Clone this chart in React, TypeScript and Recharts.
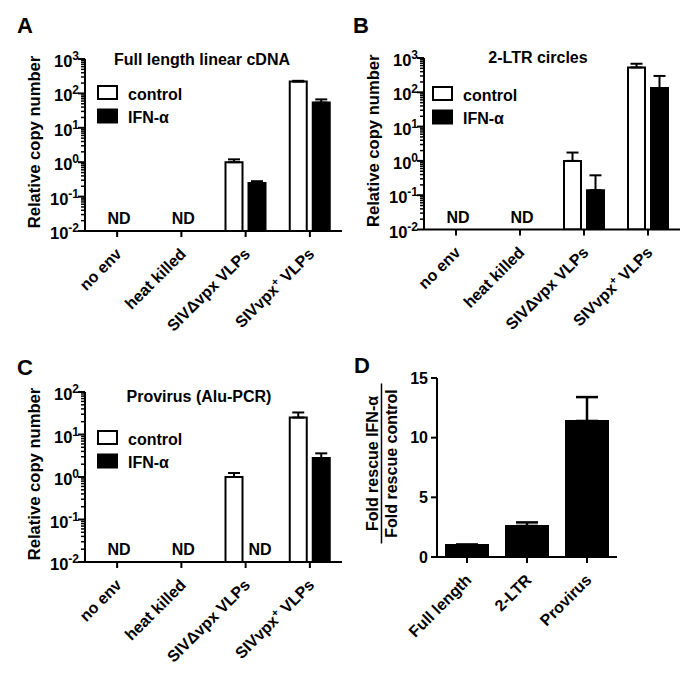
import React from "react";
import { BarChart, Bar, XAxis, YAxis, ErrorBar, Legend } from "recharts";

const FONT = "'Liberation Sans', Arial, Helvetica, sans-serif";

// ---------- data ----------
const categories = ["no env", "heat killed", "SIVΔvpx VLPs", "SIVvpx⁺ VLPs"];
const seriesNames = ["control", "IFN-α"];
const seriesFills = ["#ffffff", "#000000"];

// Panel A: Full length linear cDNA
const fullControl = [null, null, 1.0, 220];
const fullControlErr = [null, null, 0.21, 12];
const fullIfn = [null, null, 0.25, 54];
const fullIfnErr = [null, null, 0.03, 13];

// Panel B: 2-LTR circles
const ltrControl = [null, null, 1.0, 530];
const ltrControlErr = [null, null, 0.75, 150];
const ltrIfn = [null, null, 0.14, 133];
const ltrIfnErr = [null, null, 0.24, 167];

// Panel C: Provirus (Alu-PCR)
const provControl = [null, null, 1.0, 25];
const provControlErr = [null, null, 0.24, 8];
const provIfn = [null, null, null, 2.8];
const provIfnErr = [null, null, null, 0.8];

// Panel D: fold rescue ratio
const rescueCategories = ["Full length", "2-LTR", "Provirus"];
const rescueValues = [1.0, 2.6, 11.4];
const rescueErr = [0.05, 0.3, 2.0];

// ticks
const logMajorAB = [0.01, 0.1, 1, 10, 100, 1000];
const logMajorC = [0.01, 0.1, 1, 10, 100];
const minorSteps = [2, 3, 4, 5, 6, 7, 8, 9];
const rescueTicks = [0, 5, 10, 15];

// ---------- helpers ----------
const BAR = 17;
const GAP = 6;
const LEG_STEP = 23.5;

function buildLogTicks(majors: number[]) {
  const out: number[] = [];
  majors.forEach((m, i) => {
    out.push(m);
    if (i < majors.length - 1) minorSteps.forEach((s) => out.push(+(m * s).toPrecision(6)));
  });
  return out;
}

function buildRows(ctrl: any[], ctrlErr: any[], ifn: any[], ifnErr: any[]) {
  return categories.map((c, i) => ({
    category: c,
    control: ctrl[i],
    controlErr: ctrlErr[i] == null ? null : [0, ctrlErr[i]],
    ifn: ifn[i],
    ifnErr: ifnErr[i] == null ? null : [0, ifnErr[i]],
  }));
}

const txt = { fontFamily: FONT, fontWeight: 700, fill: "#000" } as const;

function LogTick(props: any) {
  const { x, y, payload } = props;
  const v = payload.value;
  const e = Math.log10(v);
  const major = Math.abs(e - Math.round(e)) < 1e-6;
  return (
    <g>
      <line x1={x - (major ? 7 : 4)} x2={x} y1={y} y2={y} stroke="#000" strokeWidth={major ? 2 : 1.5} />
      {major && (
        <text x={x - 6} y={y + 8} textAnchor="end" fontSize={16.5} {...txt}>
          10
          <tspan dy={-7} fontSize={12}>
            {String(Math.round(e))}
          </tspan>
        </text>
      )}
    </g>
  );
}

function CatText({ x, y, text }: { x: number; y: number; text: string }) {
  const ax = x + 5.5;
  const ay = y + 16;
  const parts = text.split("⁺");
  return (
    <text x={ax} y={ay} transform={`rotate(-45 ${ax} ${ay})`} textAnchor="end" fontSize={16} {...txt}>
      {parts.length === 1 ? (
        text
      ) : (
        <>
          {parts[0]}
          <tspan dy={-6} fontSize={11}>
            +
          </tspan>
          <tspan dy={6}>{parts[1]}</tspan>
        </>
      )}
    </text>
  );
}

function makeCatTick(rows: any[] | null) {
  return (props: any) => {
    const { x, y, payload, index } = props;
    const idx = payload && payload.index != null ? payload.index : index;
    const axisY = y - 8;
    let nd: React.ReactNode = null;
    if (rows) {
      const r = rows[idx];
      if (r && r.control == null && r.ifn == null) {
        nd = (
          <text x={x + 2} y={axisY - 7} textAnchor="middle" fontSize={16} {...txt}>
            ND
          </text>
        );
      } else if (r && r.ifn == null) {
        nd = (
          <text x={x + (BAR + GAP) / 2 + 3} y={axisY - 7} textAnchor="middle" fontSize={16} {...txt}>
            ND
          </text>
        );
      }
    }
    return (
      <g>
        {nd}
        <CatText x={x} y={y} text={String(payload.value)} />
      </g>
    );
  };
}

function yLabel(text: string, dx: number) {
  return (p: any) => {
    const vb = p.viewBox || {};
    const cx = vb.x + vb.width - dx;
    const cy = vb.y + vb.height / 2 - 3;
    return (
      <text x={cx} y={cy} transform={`rotate(-90 ${cx} ${cy})`} textAnchor="middle" fontSize={16.6} {...txt}>
        {text}
      </text>
    );
  };
}

function fractionLabel(p: any) {
  const vb = p.viewBox || {};
  const cx = vb.x + vb.width - 55.5;
  const cy = vb.y + vb.height / 2 - 4;
  return (
    <g transform={`rotate(-90 ${cx} ${cy})`}>
      <text x={cx} y={cy - 3.5} textAnchor="middle" fontSize={16} {...txt}>
        Fold rescue IFN-α
      </text>
      <line x1={cx - 80} x2={cx + 80} y1={cy} y2={cy} stroke="#000" strokeWidth={1.5} />
      <text x={cx} y={cy + 15} textAnchor="middle" fontSize={16} {...txt}>
        Fold rescue control
      </text>
    </g>
  );
}

function renderLegend() {
  return (
    <svg width={120} height={44} style={{ display: "block", overflow: "visible" }}>
      {seriesNames.map((name: string, i: number) => {
        const top = 1 + i * LEG_STEP;
        return (
          <g key={name}>
            <rect x={1} y={top} width={19} height={13} fill={seriesFills[i]} stroke="#000" strokeWidth={2} />
            <text x={31} y={top + 13.5} fontSize={16} {...txt}>
              {name}
            </text>
          </g>
        );
      })}
    </svg>
  );
}

const axisStroke = { stroke: "#000", strokeWidth: 2 };

function LogPanel(props: any) {
  const { rows, ticks, domain, left, top, width, height, margin, legendLeft, legendTop } = props;
  return (
    <div style={{ position: "absolute", left, top }}>
      <BarChart width={width} height={height} data={rows} margin={margin} barSize={BAR} barGap={GAP}>
        <XAxis
          dataKey="category"
          height={30}
          interval={0}
          axisLine={axisStroke}
          tickLine={axisStroke}
          tickSize={6}
          tickMargin={2}
          tick={makeCatTick(rows)}
        />
        <YAxis
          scale="log"
          type="number"
          domain={domain}
          ticks={ticks}
          interval={0}
          allowDataOverflow
          width={60}
          axisLine={axisStroke}
          tickLine={false}
          tickSize={0}
          tickMargin={0}
          tick={LogTick}
          label={yLabel("Relative copy number", 45.5)}
        />
        <Legend
          layout="vertical"
          align="center"
          verticalAlign="middle"
          content={renderLegend}
          wrapperStyle={{ left: legendLeft, top: legendTop, width: 120, height: 44 }}
        />
        <Bar dataKey="control" name={seriesNames[0]} fill={seriesFills[0]} stroke="#000" strokeWidth={2} isAnimationActive={false}>
          <ErrorBar dataKey="controlErr" direction="y" width={6} stroke="#000" strokeWidth={2} />
        </Bar>
        <Bar dataKey="ifn" name={seriesNames[1]} fill={seriesFills[1]} stroke="#000" strokeWidth={2} isAnimationActive={false}>
          <ErrorBar dataKey="ifnErr" direction="y" width={6} stroke="#000" strokeWidth={2} />
        </Bar>
      </BarChart>
    </div>
  );
}

const rowsA = buildRows(fullControl, fullControlErr, fullIfn, fullIfnErr);
const rowsB = buildRows(ltrControl, ltrControlErr, ltrIfn, ltrIfnErr);
const rowsC = buildRows(provControl, provControlErr, provIfn, provIfnErr);
const rowsD = rescueCategories.map((c, i) => ({ category: c, value: rescueValues[i], err: [0, rescueErr[i]] }));

export default function App() {
  return (
    <div style={{ position: "absolute", left: 0, top: 0, width: 685, height: 675, background: "#fff", overflow: "hidden" }}>
      <LogPanel
        rows={rowsA}
        ticks={buildLogTicks(logMajorAB)}
        domain={[0.01, 1000]}
        left={0}
        top={0}
        width={345}
        height={340}
        margin={{ top: 59, right: 3, bottom: 79, left: 25 }}
        legendLeft={96.5}
        legendTop={84.5}
      />
      <LogPanel
        rows={rowsB}
        ticks={buildLogTicks(logMajorAB)}
        domain={[0.01, 1000]}
        left={340}
        top={0}
        width={345}
        height={340}
        margin={{ top: 58, right: 5, bottom: 80.5, left: 24 }}
        legendLeft={91.5}
        legendTop={86}
      />
      <LogPanel
        rows={rowsC}
        ticks={buildLogTicks(logMajorC)}
        domain={[0.01, 100]}
        left={0}
        top={330}
        width={345}
        height={345}
        margin={{ top: 62, right: 3, bottom: 83, left: 25 }}
        legendLeft={96.5}
        legendTop={99.5}
      />
      <div style={{ position: "absolute", left: 340, top: 330 }}>
        <BarChart width={345} height={345} data={rowsD} margin={{ top: 48, right: 68, bottom: 88, left: 37 }} barSize={42}>
          <XAxis
            dataKey="category"
            height={30}
            interval={0}
            axisLine={axisStroke}
            tickLine={axisStroke}
            tickSize={6}
            tickMargin={2}
            tick={makeCatTick(null)}
          />
          <YAxis
            type="number"
            domain={[0, 15]}
            ticks={rescueTicks}
            interval={0}
            width={60}
            axisLine={axisStroke}
            tickLine={axisStroke}
            tickSize={6}
            tickMargin={3}
            tick={{ fontSize: 16, fontFamily: FONT, fontWeight: 700, fill: "#000" }}
            label={fractionLabel}
          />
          <Bar dataKey="value" fill="#000" stroke="#000" strokeWidth={2} isAnimationActive={false}>
            <ErrorBar dataKey="err" direction="y" width={11} stroke="#000" strokeWidth={2.5} />
          </Bar>
        </BarChart>
      </div>
      <svg width={685} height={675} style={{ position: "absolute", left: 0, top: 0, pointerEvents: "none" }}>
        <text x={17} y={33} fontSize={22} {...txt}>A</text>
        <text x={353} y={33} fontSize={22} {...txt}>B</text>
        <text x={17} y={375} fontSize={22} {...txt}>C</text>
        <text x={354} y={372.5} fontSize={22} {...txt}>D</text>
        <text x={202} y={65} textAnchor="middle" fontSize={16} {...txt}>Full length linear cDNA</text>
        <text x={538} y={63} textAnchor="middle" fontSize={16} {...txt}>2-LTR circles</text>
        <text x={199} y={402} textAnchor="middle" fontSize={16} {...txt}>Provirus (Alu-PCR)</text>
      </svg>
    </div>
  );
}
